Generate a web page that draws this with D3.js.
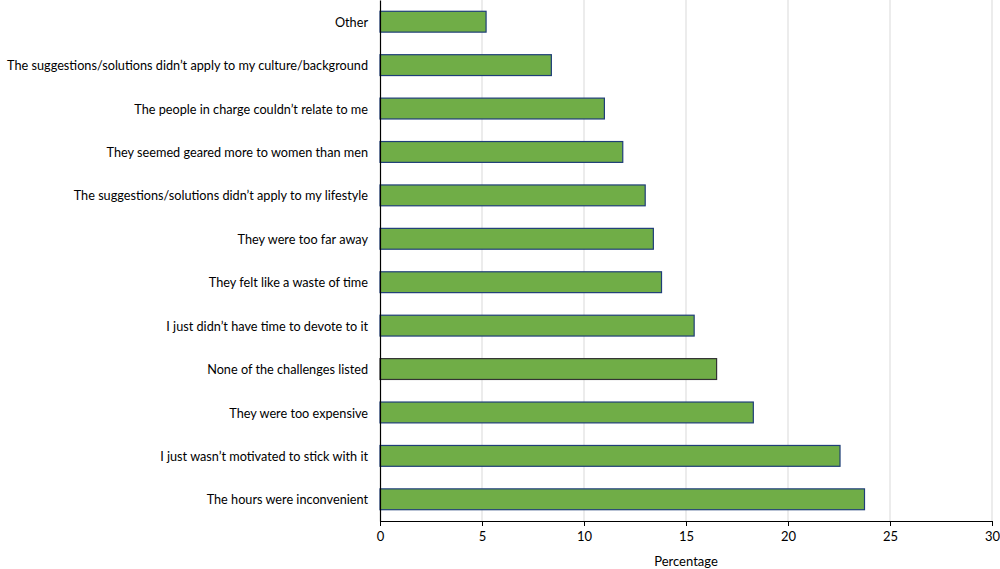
<!DOCTYPE html>
<html>
<head>
<meta charset="utf-8">
<script src="https://cdn.jsdelivr.net/npm/d3@7"></script>
<style>
  body { margin: 0; background: #fff; }
  svg { display: block; font-family: Lato, "Noto Sans", sans-serif; }
</style>
</head>
<body>
<svg id="chart" width="1000" height="569"></svg>
<script>
// categories, top to bottom
const categories = [
  "Other",
  "The suggestions/solutions didn\u2019t apply to my culture/background",
  "The people in charge couldn\u2019t relate to me",
  "They seemed geared more to women than men",
  "The suggestions/solutions didn\u2019t apply to my lifestyle",
  "They were too far away",
  "They felt like a waste of time",
  "I just didn\u2019t have time to devote to it",
  "None of the challenges listed",
  "They were too expensive",
  "I just wasn\u2019t motivated to stick with it",
  "The hours were inconvenient"
];
const values = [5.2, 8.4, 11.0, 11.9, 13.0, 13.4, 13.8, 15.4, 16.5, 18.3, 22.55, 23.75];
const xTicks = [0, 5, 10, 15, 20, 25, 30];

const svg = d3.select("#chart");
const margin = { top: 0, right: 8, bottom: 48, left: 380 };
const width = 1000, height = 569;
const innerW = width - margin.left - margin.right;
const innerH = height - margin.top - margin.bottom;

const x = d3.scaleLinear().domain([0, 30]).range([0, innerW]);
const y = d3.scaleBand().domain(categories).range([0, innerH]).paddingInner(0.52).paddingOuter(0.26);

const g = svg.append("g").attr("transform", `translate(${margin.left},${margin.top})`);

// gridlines
g.append("g")
  .selectAll("line")
  .data(xTicks.slice(1))
  .join("line")
    .attr("x1", d => x(d)).attr("x2", d => x(d))
    .attr("y1", 0).attr("y2", innerH)
    .attr("stroke", "#e0e0e0")
    .attr("stroke-width", 1.2);

// bars
g.append("g")
  .selectAll("rect")
  .data(values)
  .join("rect")
    .attr("x", 0)
    .attr("y", (d, i) => y(categories[i]))
    .attr("width", d => x(d))
    .attr("height", y.bandwidth())
    .attr("fill", "#70ad47")
    .attr("stroke", (d, i) => categories[i] === "None of the challenges listed" ? "#333333" : "#1f3e78")
    .attr("stroke-width", 1.2);

// x axis
const xAxis = g.append("g")
  .attr("transform", `translate(0,${innerH})`)
  .call(d3.axisBottom(x).tickValues(xTicks).tickSize(5).tickPadding(6).tickSizeOuter(0));
xAxis.select(".domain").attr("stroke", "#000").attr("stroke-width", 1.2);
xAxis.selectAll(".tick line").attr("stroke", "#000");
xAxis.selectAll("text").attr("font-size", 13).attr("fill", "#000").style("font-family", "Lato, sans-serif");

// y axis
const yAxis = g.append("g")
  .call(d3.axisLeft(y).tickSize(0).tickPadding(12));
yAxis.select(".domain").attr("stroke", "#000").attr("stroke-width", 1.2);
yAxis.selectAll("text").attr("font-size", 12.7).attr("fill", "#000").attr("dy", "0.4em").style("font-family", "Lato, sans-serif");

// axis title
svg.append("text")
  .attr("x", margin.left + x(15))
  .attr("y", 566)
  .attr("text-anchor", "middle")
  .attr("font-size", 13)
  .attr("fill", "#000")
  .text("Percentage");
</script>
</body>
</html>
